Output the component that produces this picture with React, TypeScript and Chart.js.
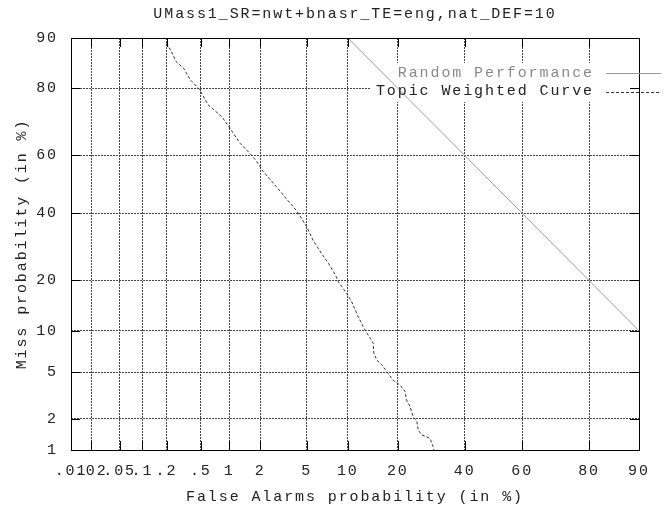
import React, { useEffect, useRef } from "react";
import { Chart, registerables } from "chart.js";

Chart.register(...registerables);

const TITLE = "UMass1_SR=nwt+bnasr_TE=eng,nat_DEF=10";
const X_TITLE = "False Alarms probability (in %)";
const Y_TITLE = "Miss probability (in %)";

const xTickValues = [0.01, 0.02, 0.05, 0.1, 0.2, 0.5, 1, 2, 5, 10, 20, 40, 60, 80, 90];
const xTickLabels = [".01", ".02", ".05", ".1", ".2", ".5", "1", "2", "5", "10", "20", "40", "60", "80", "90"];
const yTickValues = [1, 2, 5, 10, 20, 40, 60, 80, 90];
const yTickLabels = ["1", "2", "5", "10", "20", "40", "60", "80", "90"];

const xRange = [0.01, 90];
const yRange = [1, 90];

const seriesLabels = ["Random Performance", "Topic Weighted Curve"];

const randomFa = [10, 90];
const randomMiss = [90, 10];

const curveFa = [0.2, 0.23, 0.26, 0.32, 0.38, 0.48, 0.6, 0.84, 1.02, 1.28, 1.6, 1.86, 2.14, 2.8, 3.4, 4.2, 5.0, 5.6, 6.5, 7.3, 8.2, 8.6, 9.8, 10.6, 11.7, 12.9, 13.9, 14.5, 14.6, 15.2, 16.3, 17.4, 18.9, 20.5, 21.8, 22.2, 23.1, 24.0, 25.0, 25.4, 26.4, 28.8, 29.8, 30.0];
const curveMiss = [89.2, 87.7, 85.9, 84.5, 82.0, 79.8, 75.7, 72.3, 68.8, 64.1, 60.7, 57.9, 54.4, 49.2, 45.1, 40.6, 35.6, 31.3, 27.3, 24.5, 21.4, 19.7, 17.0, 15.2, 12.3, 10.1, 8.9, 8.2, 7.0, 6.2, 5.7, 5.05, 4.3, 3.95, 3.5, 2.95, 2.6, 2.1, 1.9, 1.57, 1.41, 1.31, 1.08, 1.0];

// inverse normal CDF (normal deviate scale of a DET plot)
function probit(p: number): number {
  const a = [-3.969683028665376e1, 2.209460984245205e2, -2.759285104469687e2, 1.38357751867269e2, -3.066479806614716e1, 2.506628277459239];
  const b = [-5.447609879822406e1, 1.615858368580409e2, -1.556989798598866e2, 6.680131188771972e1, -1.328068155288572e1];
  const c = [-7.784894002430293e-3, -3.223964580411365e-1, -2.400758277161838, -2.549671010336491, 4.374664141464968, 2.938163982698783];
  const d = [7.784695709041462e-3, 3.224671290700398e-1, 2.445134137142996, 3.754408661907416];
  const pl = 0.02425;
  if (p < pl) {
    const q = Math.sqrt(-2 * Math.log(p));
    return (((((c[0] * q + c[1]) * q + c[2]) * q + c[3]) * q + c[4]) * q + c[5]) / ((((d[0] * q + d[1]) * q + d[2]) * q + d[3]) * q + 1);
  }
  if (p > 1 - pl) {
    const q = Math.sqrt(-2 * Math.log(1 - p));
    return -(((((c[0] * q + c[1]) * q + c[2]) * q + c[3]) * q + c[4]) * q + c[5]) / ((((d[0] * q + d[1]) * q + d[2]) * q + d[3]) * q + 1);
  }
  const q = p - 0.5;
  const r = q * q;
  return ((((((a[0] * r + a[1]) * r + a[2]) * r + a[3]) * r + a[4]) * r + a[5]) * q) / (((((b[0] * r + b[1]) * r + b[2]) * r + b[3]) * r + b[4]) * r + 1);
}
const pct = (v: number) => probit(v / 100);

const FONT = { family: "'Liberation Mono', monospace", size: 15, lineHeight: 1.2 };

const framePlugin = {
  id: "gnuplotFrame",
  beforeDraw(chart: any) {
    (chart.ctx as any).letterSpacing = "1.9px";
  },
  beforeDatasetsDraw(chart: any) {
    const ctx = chart.ctx;
    const area = chart.chartArea;
    ctx.save();
    ctx.fillStyle = "#ffffff";
    ctx.fillRect(370, 63, area.right - 370 - 1, 39);
    ctx.restore();
  },
  afterDatasetsDraw(chart: any) {
    const ctx = chart.ctx;
    const { left, right, top, bottom } = chart.chartArea;
    const xs = chart.scales.x;
    const ys = chart.scales.y;
    const L = 9;
    ctx.save();
    ctx.strokeStyle = "#000";
    ctx.lineWidth = 1;
    ctx.setLineDash([]);
    ctx.beginPath();
    xs.ticks.forEach((t: any) => {
      const px = Math.round(xs.getPixelForValue(t.value)) + 0.5;
      if (px <= left + 1 || px >= right - 1) return;
      ctx.moveTo(px, bottom);
      ctx.lineTo(px, bottom - L);
      ctx.moveTo(px, top);
      ctx.lineTo(px, top + L);
    });
    ys.ticks.forEach((t: any) => {
      const py = Math.round(ys.getPixelForValue(t.value)) + 0.5;
      if (py <= top + 1 || py >= bottom - 1) return;
      ctx.moveTo(left, py);
      ctx.lineTo(left + L, py);
      ctx.moveTo(right, py);
      ctx.lineTo(right - L, py);
    });
    ctx.stroke();
    ctx.strokeRect(Math.round(left) + 0.5, Math.round(top) + 0.5, Math.round(right - left), Math.round(bottom - top));
    ctx.restore();
  },
  afterDraw(chart: any) {
    const ctx = chart.ctx;
    ctx.save();
    (ctx as any).letterSpacing = "1.9px";
    ctx.font = `${FONT.size}px ${FONT.family}`;
    ctx.textAlign = "right";
    ctx.textBaseline = "middle";
    const rows = [
      { y: 73, color: "#8a8a8a", line: "#999999", dash: [] as number[] },
      { y: 91.5, color: "#222222", line: "#333333", dash: [3, 2] },
    ];
    rows.forEach((r, i) => {
      ctx.fillStyle = r.color;
      ctx.fillText(seriesLabels[i], 594, r.y);
      ctx.strokeStyle = r.line;
      ctx.lineWidth = 1;
      ctx.setLineDash(r.dash);
      ctx.beginPath();
      ctx.moveTo(606, Math.round(r.y) + 0.5);
      ctx.lineTo(661, Math.round(r.y) + 0.5);
      ctx.stroke();
    });
    ctx.restore();
  },
};

export default function App() {
  const ref = useRef<HTMLCanvasElement | null>(null);

  useEffect(() => {
    document.body.style.margin = "0";
    const canvas = ref.current;
    if (!canvas) return;

    const randomPts = randomFa.map((v, i) => ({ x: pct(v), y: pct(randomMiss[i]) }));
    const curvePts = curveFa.map((v, i) => ({ x: pct(v), y: pct(curveMiss[i]) }));

    const chart = new Chart(canvas, {
      type: "line",
      data: {
        datasets: [
          {
            label: seriesLabels[0],
            data: randomPts,
            borderColor: "#999999",
            borderWidth: 1,
            pointRadius: 0,
            fill: false,
            tension: 0,
          },
          {
            label: seriesLabels[1],
            data: curvePts,
            borderColor: "#333333",
            borderWidth: 1,
            borderDash: [3, 2],
            pointRadius: 0,
            fill: false,
            tension: 0,
          },
        ],
      },
      options: {
        animation: false,
        responsive: false,
        devicePixelRatio: 1,
        events: [],
        layout: { padding: { left: 0, right: 25, top: 0, bottom: 0 } },
        plugins: {
          legend: { display: false },
          tooltip: { enabled: false },
          title: {
            display: true,
            text: TITLE,
            fullSize: false,
            color: "#222222",
            font: { ...FONT, weight: "normal" },
            padding: { top: 5, bottom: 15 },
          },
        },
        scales: {
          x: {
            type: "linear",
            min: pct(xRange[0]),
            max: pct(xRange[1]),
            afterBuildTicks: (s: any) => {
              s.ticks = xTickValues.map((v) => ({ value: pct(v) }));
            },
            afterFit: (s: any) => {
              s.height = 58;
              s.paddingLeft = 0;
              s.paddingRight = 0;
            },
            ticks: {
              autoSkip: false,
              maxRotation: 0,
              minRotation: 0,
              padding: 12,
              color: "#222222",
              font: FONT,
              callback: (_v: any, i: number) => xTickLabels[i],
            },
            grid: { display: true, drawTicks: false, color: "#444444", lineWidth: 1 },
            border: { display: false, dash: [2, 1] },
            title: { display: true, text: X_TITLE, color: "#222222", font: FONT, padding: { top: 0, bottom: 2 } },
          },
          y: {
            type: "linear",
            min: pct(yRange[0]),
            max: pct(yRange[1]),
            afterBuildTicks: (s: any) => {
              s.ticks = yTickValues.map((v) => ({ value: pct(v) }));
            },
            afterFit: (s: any) => {
              s.width = 71;
              s.paddingTop = 0;
              s.paddingBottom = 0;
            },
            ticks: {
              autoSkip: false,
              padding: 13,
              color: "#222222",
              font: FONT,
              callback: (_v: any, i: number) => yTickLabels[i],
            },
            grid: { display: true, drawTicks: false, color: "#444444", lineWidth: 1 },
            border: { display: false, dash: [2, 1] },
            title: { display: true, text: Y_TITLE, color: "#222222", font: FONT, padding: { top: 13.5, bottom: 0 } },
          },
        },
      },
      plugins: [framePlugin],
    } as any);

    return () => chart.destroy();
  }, []);

  return (
    <div style={{ position: "absolute", left: 0, top: 0, width: 664, height: 508 }}>
      <canvas ref={ref} width={664} height={508} style={{ display: "block", width: 664, height: 508 }} />
    </div>
  );
}
